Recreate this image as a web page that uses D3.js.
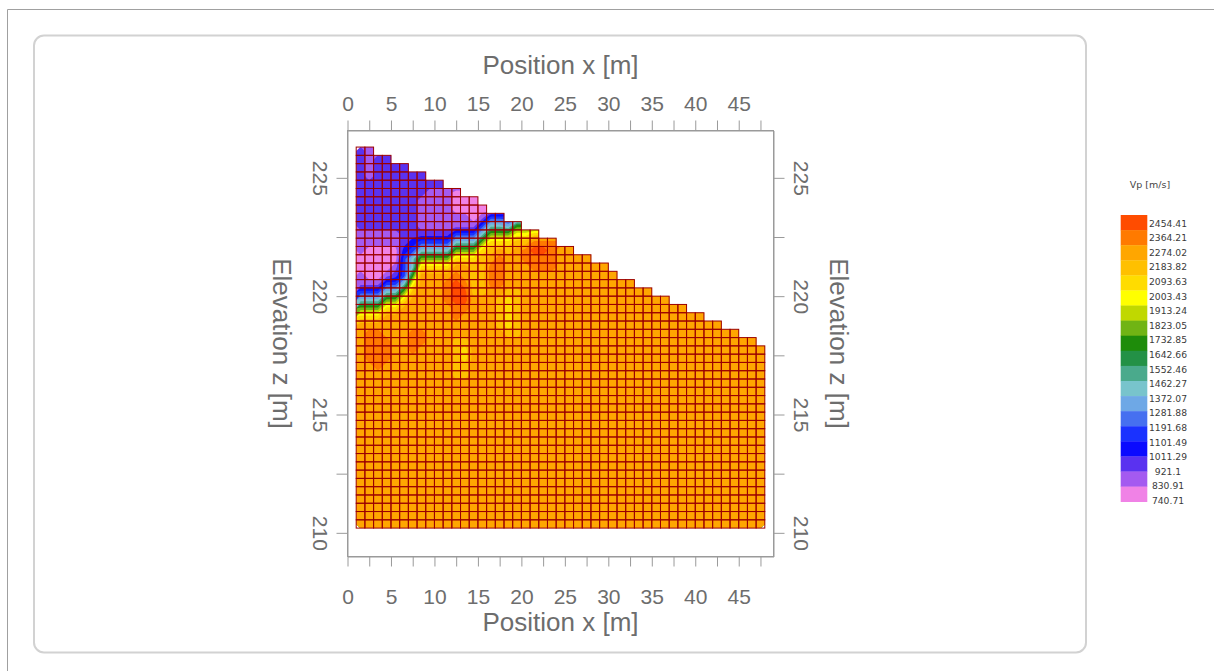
<!DOCTYPE html>
<html>
<head>
<meta charset="utf-8">
<script src="https://cdn.jsdelivr.net/npm/d3@7"></script>
<style>
  body { margin: 0; background: #fff; }
  svg { display: block; }
</style>
</head>
<body>
<div id="chart"></div>
<script>
// Vp legend breaks, top (fast) to bottom (slow)
var vpLabels = [2454.41, 2364.21, 2274.02, 2183.82, 2093.63, 2003.43, 1913.24, 1823.05, 1732.85,
                1642.66, 1552.46, 1462.27, 1372.07, 1281.88, 1191.68, 1101.49, 1011.29, 921.1, 830.91, 740.71];

// one colour per band (band k lies between vpLabels[k+1] and vpLabels[k])
var bandColors = ["#ff4c00", "#ff7a00", "#ffa600", "#ffc000", "#ffdc00", "#ffff00", "#c0d800",
                  "#70b414", "#1e8c0a", "#239146", "#4aaa8c", "#78c4cc", "#6ea8e6", "#4670f0",
                  "#1a32ff", "#0a0aff", "#5a32f0", "#a45af0", "#f082e6"];

var xTicks = [0, 2.5, 5, 7.5, 10, 12.5, 15, 17.5, 20, 22.5, 25, 27.5, 30, 32.5, 35, 37.5, 40, 42.5, 45, 47.5];
var zTicks = [210, 212.5, 215, 217.5, 220, 222.5, 225];

// model cells: columns 1 m wide starting at x = 1, rows 0.35 m high starting at z = 210.2
// each column is read from the ground surface down, as "band:count" runs
// band code = index of the legend band (0 = 2364-2454 ... i = 740-830)
var vpColumns = [
  "g:10 h:3 i:2 h:2 e:1 b:1 7:1 4:1 2:25",
  "h:4 g:6 h:2 i:4 h:1 e:1 b:1 7:1 4:1 2:1 1:4 2:20",
  "g:9 h:2 i:4 h:1 e:1 b:1 7:1 4:1 2:1 1:5 2:19",
  "g:9 h:2 i:3 h:1 e:1 b:1 7:1 4:1 2:3 1:3 2:20",
  "g:8 h:2 i:2 h:1 g:1 e:1 b:1 7:1 4:1 2:26",
  "g:10 f:1 e:3 b:1 7:1 4:1 2:27",
  "g:8 f:1 e:1 b:2 8:1 5:1 3:1 2:4 1:3 2:21",
  "g:3 h:4 g:1 e:1 b:1 7:1 4:1 2:7 1:2 2:22",
  "g:1 h:5 g:1 e:1 b:1 7:1 4:1 2:31",
  "g:1 h:5 g:1 e:1 b:1 7:1 4:1 2:31",
  "h:5 g:1 e:1 b:1 7:1 4:1 2:1 1:3 2:27",
  "i:3 h:2 e:1 b:1 7:1 4:1 2:1 1:1 0:3 1:2 2:2 3:5 2:18",
  "i:2 h:2 e:1 b:1 7:1 4:1 2:2 1:1 0:2 1:1 2:3 3:1 4:2 3:2 2:18",
  "i:3 h:1 e:1 b:1 7:1 4:1 3:4 2:28",
  "i:1 h:1 e:1 b:1 7:1 4:1 3:5 2:28",
  "e:1 b:1 7:1 4:1 3:1 2:1 1:3 2:29",
  "e:1 b:1 7:1 4:1 2:1 1:4 2:1 3:4 2:24",
  "c:1 7:1 4:1 3:1 2:4 3:1 4:4 3:1 2:23",
  "8:1 5:1 3:1 2:5 3:6 2:23",
  "5:1 3:1 1:2 2:32",
  "4:1 1:1 0:1 1:2 2:31",
  "1:1 0:1 1:2 2:31",
  "1:4 2:31",
  "2:34", "2:34", "2:33", "2:33", "2:32", "2:32", "2:31", "2:30", "2:30", "2:29", "2:29",
  "2:28", "2:28", "2:27", "2:27", "2:26", "2:26", "2:25", "2:25", "2:24", "2:24", "2:23", "2:23", "2:22"
];

var cellX0 = 1, cellW = 1, cellZ0 = 210.2, cellH = 0.35, nRows = 46;
var zTop = cellZ0 + nRows * cellH;

var textColor = "#6d6d6d", axisColor = "#9a9a9a";

var svg = d3.select("#chart").append("svg")
    .attr("width", 1214)
    .attr("height", 671);

// page frame and rounded panel
svg.append("path").attr("d", "M7.5,671V9.5H1214")
   .attr("fill", "none").attr("stroke", "#a0a0a0");
svg.append("rect").attr("x", 34).attr("y", 35.5).attr("width", 1052).attr("height", 617)
   .attr("rx", 10).attr("fill", "none").attr("stroke", "#d2d2d2").attr("stroke-width", 2);

var margin = {left: 347.5, top: 130.5}, width = 426, height = 426;

var x = d3.scaleLinear().domain([0, 49]).range([margin.left, margin.left + width]);
var y = d3.scaleLinear().domain([209, 227]).range([margin.top + height, margin.top]);

// expand the runs into per-column band codes
var columns = vpColumns.map(function(s) {
  var codes = [];
  s.split(" ").forEach(function(run) {
    var p = run.split(":");
    for (var k = 0; k < +p[1]; k++) codes.push(p[0]);
  });
  return codes;
});
var nCols = columns.length;

function bandMid(code) {
  var k = parseInt(code, 36);
  return (vpLabels[k] + vpLabels[k + 1]) / 2;
}

// value grid for the contour generator (row 0 = top)
var grid = new Array(nCols * nRows);
var cells = [];
columns.forEach(function(codes, c) {
  var first = nRows - codes.length;
  codes.forEach(function(code, k) {
    grid[(first + k) * nCols + c] = bandMid(code);
    cells.push({c: c, row: first + k});
  });
});
// cells above the ground are hidden by the clip; give them the left neighbour's value
for (var r = 0; r < nRows; r++) {
  for (var c = 1; c < nCols; c++) {
    if (grid[r * nCols + c] === undefined) grid[r * nCols + c] = grid[r * nCols + c - 1];
  }
}

// clip to the model cells
var clip = svg.append("defs").append("clipPath").attr("id", "cellClip");
clip.selectAll("rect").data(columns).join("rect")
    .attr("x", function(d, c) { return x(cellX0 + c * cellW); })
    .attr("width", x(cellW) - x(0) + 0.2)
    .attr("y", function(d) { return y(cellZ0 + d.length * cellH); })
    .attr("height", function(d) { return y(cellZ0) - y(cellZ0 + d.length * cellH); });

var thresholds = vpLabels.slice(1).reverse();
var contours = d3.contours().size([nCols, nRows]).thresholds(thresholds)(grid);

var gridProj = d3.geoTransform({
  point: function(gx, gy) {
    this.stream.point(x(cellX0 + gx * cellW), y(zTop - gy * cellH));
  }
});

svg.append("g").attr("clip-path", "url(#cellClip)")
  .selectAll("path").data(contours).join("path")
    .attr("d", d3.geoPath(gridProj))
    .attr("fill", function(d) { return bandColors[vpLabels.indexOf(d.value) - 1]; });

// cell outlines
svg.append("g").selectAll("rect").data(cells).join("rect")
    .attr("x", function(d) { return x(cellX0 + d.c * cellW); })
    .attr("y", function(d) { return y(zTop - d.row * cellH); })
    .attr("width", x(cellW) - x(0))
    .attr("height", y(0) - y(cellH))
    .attr("fill", "none")
    .attr("stroke", "#9b0000")
    .attr("stroke-width", 1);

// frame
svg.append("rect").attr("x", margin.left).attr("y", margin.top)
   .attr("width", width).attr("height", height)
   .attr("fill", "none").attr("stroke", axisColor);

function styleAxis(g) {
  g.attr("font-size", null).attr("font-family", null);
  g.selectAll("path, line").attr("stroke", axisColor);
  g.selectAll("text").attr("fill", textColor)
   .style("font-family", "'Liberation Sans', Arial, sans-serif")
   .style("font-size", "21px");
}

var xFmt = function(d) { return d % 5 === 0 ? d : ""; };
var zFmt = function(d) { return d % 5 === 0 ? d : ""; };

svg.append("g").attr("transform", "translate(0," + margin.top + ")")
   .call(d3.axisTop(x).tickValues(xTicks).tickSize(10).tickPadding(10).tickSizeOuter(0).tickFormat(xFmt))
   .call(styleAxis);

svg.append("g").attr("transform", "translate(0," + (margin.top + height) + ")")
   .call(d3.axisBottom(x).tickValues(xTicks).tickSize(10).tickPadding(23).tickSizeOuter(0).tickFormat(xFmt))
   .call(styleAxis);

svg.append("g").attr("transform", "translate(" + margin.left + ",0)")
   .call(d3.axisLeft(y).tickValues(zTicks).tickSize(11).tickSizeOuter(0).tickFormat(zFmt))
   .call(styleAxis)
   .selectAll("text")
     .attr("x", null).attr("dy", "0.35em").attr("text-anchor", "middle")
     .attr("transform", "translate(-27,0) rotate(90)");

svg.append("g").attr("transform", "translate(" + (margin.left + width) + ",0)")
   .call(d3.axisRight(y).tickValues(zTicks).tickSize(11).tickSizeOuter(0).tickFormat(zFmt))
   .call(styleAxis)
   .selectAll("text")
     .attr("x", null).attr("dy", "0.35em").attr("text-anchor", "middle")
     .attr("transform", "translate(28,0) rotate(90)");

// axis titles
function axisTitle(txt, tx, ty, rot) {
  svg.append("text")
     .attr("transform", "translate(" + tx + "," + ty + ")" + (rot ? " rotate(90)" : ""))
     .attr("text-anchor", "middle").attr("dy", "0.35em")
     .attr("fill", textColor)
     .style("font-family", "'Liberation Sans', Arial, sans-serif")
     .style("font-size", "26px")
     .text(txt);
}
var cx = margin.left + width / 2, cy = margin.top + height / 2;
axisTitle("Position x [m]", cx, 65, false);
axisTitle("Position x [m]", cx, 622, false);
axisTitle("Elevation z [m]", 282.5, cy, true);
axisTitle("Elevation z [m]", 839, cy, true);

// colour legend
var legX = 1120.7, legW = 26.6, legTop = 215, legBottom = 501.7;
var bandY = d3.scaleBand().domain(d3.range(bandColors.length)).range([legTop, legBottom]);
var labelY = d3.scalePoint().domain(vpLabels).range([223.3, 500.7]);

var legend = svg.append("g");
legend.selectAll("rect").data(bandColors).join("rect")
    .attr("x", legX).attr("width", legW)
    .attr("y", function(d, i) { return bandY(i); })
    .attr("height", bandY.bandwidth() + 0.3)
    .attr("fill", function(d) { return d; });

legend.selectAll("text.lab").data(vpLabels).join("text")
    .attr("class", "lab")
    .attr("x", 1168).attr("y", function(d) { return labelY(d); })
    .attr("dy", "0.35em").attr("text-anchor", "middle")
    .attr("fill", "#3a3a3a")
    .style("font-family", "'DejaVu Sans', Verdana, sans-serif")
    .style("font-size", "9.2px")
    .text(function(d) { return d; });

legend.append("text")
    .attr("x", 1150).attr("y", 185).attr("dy", "0.35em").attr("text-anchor", "middle")
    .attr("fill", "#444")
    .style("font-family", "'DejaVu Sans', Verdana, sans-serif")
    .style("font-size", "9.5px")
    .text("Vp [m/s]");
</script>
</body>
</html>
